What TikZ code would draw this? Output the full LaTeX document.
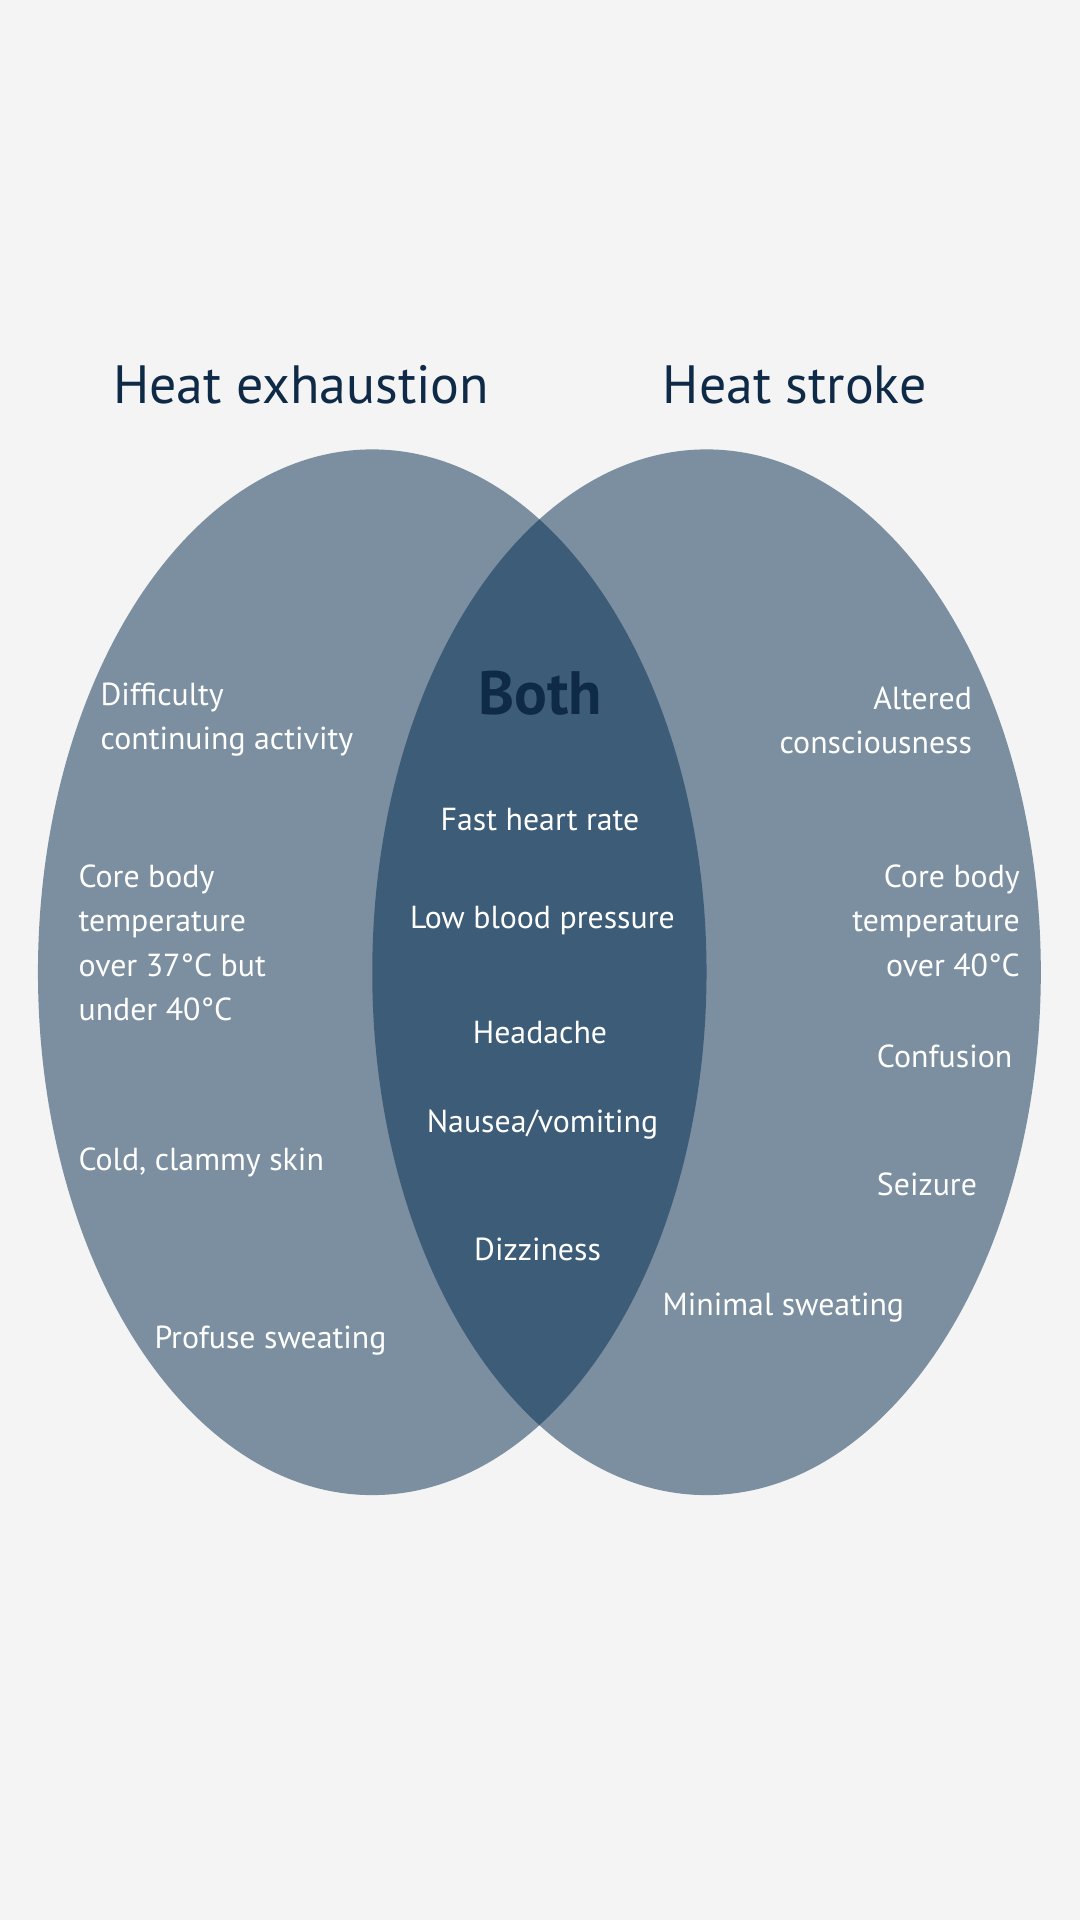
\documentclass[tikz,border=0pt]{standalone}
\usepackage{fontspec}
\setmainfont{PT Sans}
\definecolor{bg}{HTML}{F4F4F4}
\definecolor{ell}{HTML}{7B8FA0}
\definecolor{ovl}{HTML}{3D5C77}
\definecolor{navy}{HTML}{0F2A47}
\begin{document}
\begin{tikzpicture}[x=1pt,y=-1pt,
  lbl/.style={text=white,font=\fontsize{26}{36}\selectfont,inner sep=0pt},
  ttl/.style={text=navy,font=\fontsize{44}{50}\selectfont,inner sep=0pt}]
\useasboundingbox (0,0) rectangle (882,1568);
\fill[bg] (0,0) rectangle (882,1568);
\fill[ell] (304,794) ellipse [x radius=273, y radius=427];
\fill[ell] (577,794) ellipse [x radius=273, y radius=427];
\begin{scope}
\clip (304,794) ellipse [x radius=273, y radius=427];
\fill[ovl] (577,794) ellipse [x radius=273, y radius=427];
\end{scope}
\node[ttl] (t1) at (246,314) {Heat exhaustion};
\node[ttl] (t2) at (649,314) {Heat stroke};
\node[text=navy,font=\fontsize{50}{56}\selectfont\bfseries,inner sep=0pt] (both) at (441,566) {Both};
\node[lbl] (c1) at (441,669) {Fast heart rate};
\node[lbl] (c2) at (443,752) {Low blood pressure};
\node[lbl] (c3) at (441,843) {Headache};
\node[lbl] (c4) at (443,918) {Nausea/vomiting};
\node[lbl] (c5) at (439,1020) {Dizziness};
\node[lbl,anchor=west,align=left] (l1) at (82,588) {Difficulty\\continuing activity};
\node[lbl,anchor=west,align=left] (l2) at (64,770) {Core body\\temperature\\over 37°C but\\under 40°C};
\node[lbl,anchor=west] (l3) at (64,949) {Cold, clammy skin};
\node[lbl,anchor=west] (l4) at (126,1095) {Profuse sweating};
\node[lbl,anchor=east,align=right] (r1) at (794,588) {Altered\\consciousness};
\node[lbl,anchor=east,align=right] (r2) at (833,752) {Core body\\temperature\\over 40°C};
\node[lbl,anchor=west] (r3) at (716,863) {Confusion};
\node[lbl,anchor=west] (r4) at (716,967) {Seizure};
\node[lbl,anchor=west] (r5) at (541,1068) {Minimal sweating};
\end{tikzpicture}
\end{document}
